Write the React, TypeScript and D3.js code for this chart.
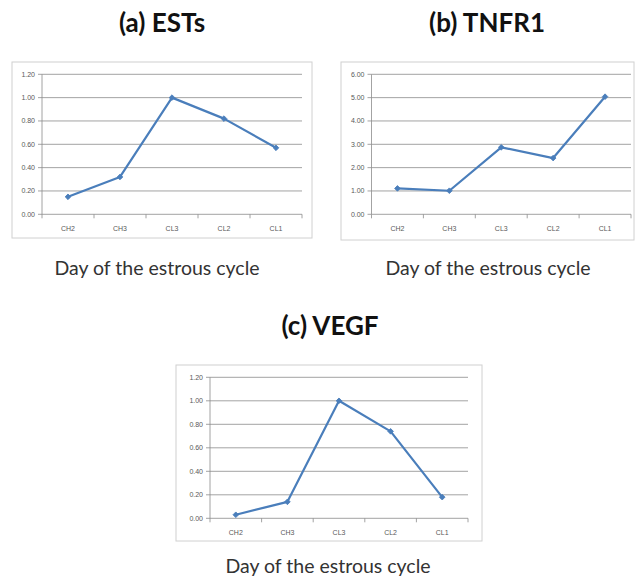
import React from "react";
import * as d3 from "d3";

const categories = ["CH2", "CH3", "CL3", "CL2", "CL1"];
const estsValues = [0.15, 0.32, 1.0, 0.82, 0.57];
const tnfr1Values = [1.11, 1.01, 2.87, 2.41, 5.04];
const vegfValues = [0.03, 0.14, 1.0, 0.74, 0.18];
const smallTicks = [0, 0.2, 0.4, 0.6, 0.8, 1.0, 1.2];
const largeTicks = [0, 1, 2, 3, 4, 5, 6];
const panelTitles = ["(a) ESTs", "(b) TNFR1", "(c) VEGF"];
const xAxisTitle = "Day of the estrous cycle";

type Box = { x0: number; y0: number; x1: number; y1: number };

interface PanelProps {
  box: Box;
  plot: Box;
  values: number[];
  ticks: number[];
  title: string;
  titleX: number;
  titleY: number;
  axisTitleX: number;
  axisTitleY: number;
}

const LINE = "#4a7ebb";
const GRID = "#8c8c8c";
const LABEL = "#595959";

function Panel(p: PanelProps) {
  const { box, plot, values, ticks } = p;
  const x = d3.scaleBand<string>().domain(categories).range([plot.x0, plot.x1]);
  const y = d3
    .scaleLinear()
    .domain([ticks[0], ticks[ticks.length - 1]])
    .range([plot.y1, plot.y0]);
  const cx = (c: string) => (x(c) ?? 0) + x.bandwidth() / 2;
  const pts = categories.map((c, i) => [cx(c), y(values[i])] as [number, number]);
  const line = d3.line()(pts) ?? "";
  const diamond = d3.symbol(d3.symbolSquare, 16)() ?? "";
  const boundaries = [...categories.map((c) => x(c) ?? 0), plot.x1];
  return (
    <g>
      <rect
        x={box.x0}
        y={box.y0}
        width={box.x1 - box.x0}
        height={box.y1 - box.y0}
        fill="white"
        stroke="#d0d0d0"
        strokeWidth={1}
      />
      {ticks.map((t) => (
        <g key={t}>
          {t !== ticks[0] && (
            <line x1={plot.x0} x2={plot.x1} y1={y(t)} y2={y(t)} stroke={GRID} strokeWidth={0.8} />
          )}
          <line x1={plot.x0 - 4} x2={plot.x0} y1={y(t)} y2={y(t)} stroke={GRID} strokeWidth={0.8} />
          <text
            x={plot.x0 - 7}
            y={y(t)}
            dy="0.35em"
            textAnchor="end"
            fontSize={7}
            fill={LABEL}
            fontFamily="'Liberation Sans', Arial, sans-serif"
          >
            {t.toFixed(2)}
          </text>
        </g>
      ))}
      <line x1={plot.x0} x2={plot.x0} y1={plot.y0} y2={plot.y1} stroke={GRID} strokeWidth={0.8} />
      <line x1={plot.x0} x2={plot.x1} y1={plot.y1} y2={plot.y1} stroke={GRID} strokeWidth={0.8} />
      {boundaries.map((b, i) => (
        <line key={i} x1={b} x2={b} y1={plot.y1} y2={plot.y1 + 4} stroke={GRID} strokeWidth={0.8} />
      ))}
      {categories.map((c) => (
        <text
          key={c}
          x={cx(c)}
          y={plot.y1 + 14}
          dy="0.35em"
          textAnchor="middle"
          fontSize={7}
          fill={LABEL}
          fontFamily="'Liberation Sans', Arial, sans-serif"
        >
          {c}
        </text>
      ))}
      <path d={line} fill="none" stroke={LINE} strokeWidth={2.2} strokeLinejoin="round" />
      {pts.map((pt, i) => (
        <path
          key={i}
          d={diamond}
          transform={`translate(${pt[0]},${pt[1]}) rotate(45)`}
          fill={LINE}
          stroke={LINE}
          strokeWidth={0.8}
        />
      ))}
      <text
        x={p.titleX}
        y={p.titleY}
        textAnchor="middle"
        fontSize={26}
        fontWeight="bold"
        fill="#111"
        fontFamily="Lato, 'Open Sans', sans-serif"
      >
        {p.title}
      </text>
      <text
        x={p.axisTitleX}
        y={p.axisTitleY}
        textAnchor="middle"
        fontSize={19.5}
        fill="#333"
        fontFamily="Lato, 'Open Sans', sans-serif"
      >
        {xAxisTitle}
      </text>
    </g>
  );
}

export default function App() {
  return (
    <svg
      width={643}
      height={582}
      style={{ position: "absolute", left: 0, top: 0, background: "white" }}
    >
      <rect x={0} y={0} width={643} height={582} fill="white" />
      <Panel
        box={{ x0: 12, y0: 62, x1: 312, y1: 238 }}
        plot={{ x0: 42, y0: 74.3, x1: 302, y1: 214.3 }}
        values={estsValues}
        ticks={smallTicks}
        title={panelTitles[0]}
        titleX={162}
        titleY={32}
        axisTitleX={157}
        axisTitleY={275}
      />
      <Panel
        box={{ x0: 341, y0: 62, x1: 634, y1: 240 }}
        plot={{ x0: 371.5, y0: 74.3, x1: 631, y1: 214.3 }}
        values={tnfr1Values}
        ticks={largeTicks}
        title={panelTitles[1]}
        titleX={487}
        titleY={32}
        axisTitleX={488}
        axisTitleY={275}
      />
      <Panel
        box={{ x0: 176, y0: 365, x1: 482, y1: 541 }}
        plot={{ x0: 210, y0: 377.3, x1: 468, y1: 518.3 }}
        values={vegfValues}
        ticks={smallTicks}
        title={panelTitles[2]}
        titleX={330}
        titleY={335}
        axisTitleX={328}
        axisTitleY={573}
      />
    </svg>
  );
}
